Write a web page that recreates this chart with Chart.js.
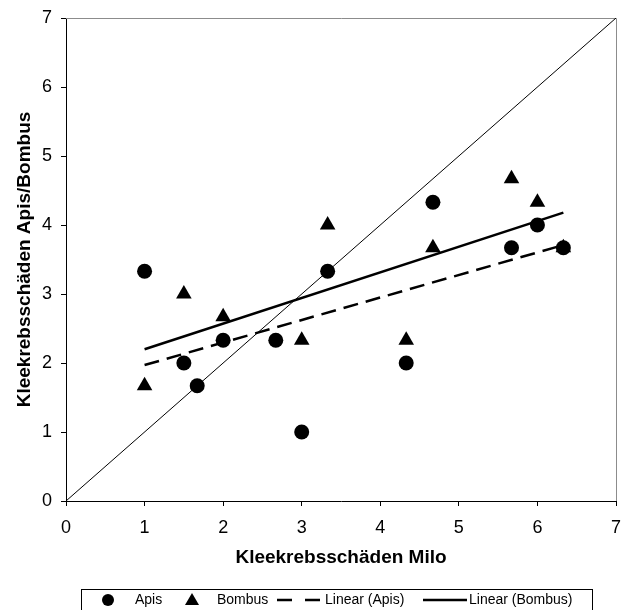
<!DOCTYPE html>
<html>
<head>
<meta charset="utf-8">
<script src="https://cdn.jsdelivr.net/npm/chart.js@4"></script>
<style>
    html, body {margin: 0; padding: 0; background: #ffffff;}
    #wrap {width: 628px; height: 610px;}
</style>
</head>
<body>
<div id="wrap"><canvas id="scatterChart" width="628" height="610"></canvas></div>
<script>
const apisX = [1, 1.5, 1.67, 2, 2.67, 3, 3.33, 4.33, 4.67, 5.67, 6, 6.33];
const apisY = [3.33, 2, 1.67, 2.33, 2.33, 1, 3.33, 2, 4.33, 3.67, 4, 3.67];

const bombusX = [1, 1.5, 2, 3, 3.33, 4.33, 4.67, 5.67, 6, 6.33];
const bombusY = [1.67, 3, 2.67, 2.33, 4, 2.33, 3.67, 4.67, 4.33, 3.67];

// trend line end points
const trendApisX = [1, 6.33];
const trendApisY = [1.97, 3.71];
const trendBombusX = [1, 6.33];
const trendBombusY = [2.2, 4.18];

// 1:1 reference line
const diagX = [0, 7];
const diagY = [0, 7];

const axisTicks = [0, 1, 2, 3, 4, 5, 6, 7];

const toPoints = (xs, ys) => xs.map((x, i) => ({x: x, y: ys[i]}));

const FONT = "'Liberation Sans', Arial, sans-serif";

// gray frame on top and right of the plot
const framePlugin = {
    id: 'frame',
    beforeDatasetsDraw(chart) {
        const {ctx, chartArea: a} = chart;
        ctx.save();
        ctx.strokeStyle = '#8c8c8c';
        ctx.lineWidth = 1;
        ctx.beginPath();
        ctx.moveTo(a.left, a.top + 0.5);
        ctx.lineTo(a.right + 0.5, a.top + 0.5);
        ctx.lineTo(a.right + 0.5, a.bottom);
        ctx.stroke();
        ctx.restore();
    }
};

// boxed legend at the bottom, like the original
const boxLegendPlugin = {
    id: 'boxLegend',
    afterDraw(chart) {
        const ctx = chart.ctx;
        const ds = chart.data.datasets;
        const y = 600;
        ctx.save();
        ctx.strokeStyle = '#000000';
        ctx.lineWidth = 1;
        ctx.strokeRect(81.5, 589.5, 511, 30);

        ctx.fillStyle = '#000000';
        ctx.font = '14px ' + FONT;
        ctx.textBaseline = 'middle';
        ctx.textAlign = 'left';

        // Apis
        ctx.beginPath();
        ctx.arc(108, y, 6, 0, Math.PI * 2);
        ctx.fill();
        ctx.fillText(ds[0].label, 135, y);

        // Bombus
        ctx.beginPath();
        ctx.moveTo(192, y - 7);
        ctx.lineTo(199, y + 5);
        ctx.lineTo(185, y + 5);
        ctx.closePath();
        ctx.fill();
        ctx.fillText(ds[1].label, 217, y);

        // Linear (Apis)
        ctx.lineWidth = 2.5;
        ctx.setLineDash([15, 13]);
        ctx.beginPath();
        ctx.moveTo(277, y);
        ctx.lineTo(322, y);
        ctx.stroke();
        ctx.setLineDash([]);
        ctx.fillText(ds[2].label, 325, y);

        // Linear (Bombus)
        ctx.beginPath();
        ctx.moveTo(423, y);
        ctx.lineTo(467, y);
        ctx.stroke();
        ctx.fillText(ds[3].label, 469, y);
        ctx.restore();
    }
};

const ctx = document.getElementById('scatterChart');

new Chart(ctx, {
    type: 'scatter',
    data: {
        datasets: [
            {
                label: 'Apis',
                data: toPoints(apisX, apisY),
                pointStyle: 'circle',
                pointRadius: 7.5,
                backgroundColor: '#000000',
                borderColor: '#000000',
                borderWidth: 0
            },
            {
                label: 'Bombus',
                data: toPoints(bombusX, bombusY),
                pointStyle: 'triangle',
                pointRadius: 9,
                backgroundColor: '#000000',
                borderColor: '#000000',
                borderWidth: 0
            },
            {
                label: 'Linear (Apis)',
                data: toPoints(trendApisX, trendApisY),
                type: 'line',
                showLine: true,
                borderColor: '#000000',
                borderWidth: 2.5,
                borderDash: [15, 8],
                pointRadius: 0,
                fill: false
            },
            {
                label: 'Linear (Bombus)',
                data: toPoints(trendBombusX, trendBombusY),
                type: 'line',
                showLine: true,
                borderColor: '#000000',
                borderWidth: 2.5,
                pointRadius: 0,
                fill: false
            },
            {
                label: '1:1',
                data: toPoints(diagX, diagY),
                type: 'line',
                showLine: true,
                borderColor: '#000000',
                borderWidth: 1,
                pointRadius: 0,
                fill: false
            }
        ]
    },
    options: {
        responsive: false,
        animation: false,
        events: [],
        layout: {
            padding: {left: 13, top: 18, right: 12, bottom: 41}
        },
        plugins: {
            legend: {display: false},
            tooltip: {enabled: false}
        },
        scales: {
            x: {
                type: 'linear',
                min: 0,
                max: 7,
                afterBuildTicks: (scale) => { scale.ticks = axisTicks.map(v => ({value: v})); },
                afterFit: (scale) => {
                    scale.height = 68;
                    scale.paddingLeft = 0;
                    scale.paddingRight = 0;
                },
                grid: {display: true, drawOnChartArea: false, drawTicks: true, tickLength: 5, color: '#000000'},
                border: {display: true, color: '#000000', width: 1},
                ticks: {color: '#000000', padding: 11, font: {family: FONT, size: 18}},
                title: {
                    display: true,
                    text: 'Kleekrebsschäden Milo',
                    color: '#000000',
                    padding: 0,
                    font: {family: FONT, size: 19, weight: 'bold'}
                }
            },
            y: {
                type: 'linear',
                min: 0,
                max: 7,
                afterBuildTicks: (scale) => { scale.ticks = axisTicks.map(v => ({value: v})); },
                afterFit: (scale) => {
                    scale.width = 53;
                    scale.paddingTop = 0;
                    scale.paddingBottom = 0;
                },
                grid: {display: true, drawOnChartArea: false, drawTicks: true, tickLength: 5, color: '#000000'},
                border: {display: true, color: '#000000', width: 1},
                ticks: {color: '#000000', padding: 9, font: {family: FONT, size: 18}},
                title: {
                    display: true,
                    text: 'Kleekrebsschäden Apis/Bombus',
                    color: '#000000',
                    padding: 0,
                    font: {family: FONT, size: 19, weight: 'bold'}
                }
            }
        }
    },
    plugins: [framePlugin, boxLegendPlugin]
});
</script>
</body>
</html>
